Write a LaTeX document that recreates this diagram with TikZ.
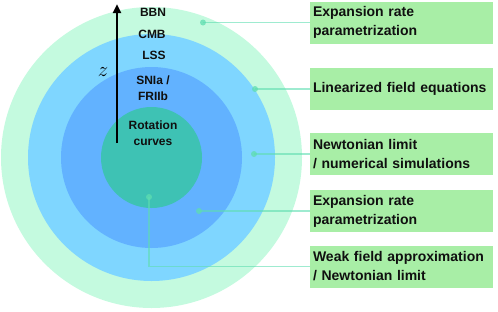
\documentclass[tikz,border=0pt]{standalone}
\usepackage{fontspec}
\setmainfont{Liberation Sans}
\usepackage{xcolor}
\usetikzlibrary{positioning, arrows.meta, calc}
\definecolor{ringbbn}{HTML}{C4FADF}
\definecolor{ringlss}{HTML}{7FD6FF}
\definecolor{ringsn}{HTML}{62B2FF}
\definecolor{ringrot}{HTML}{3EC2B4}
\definecolor{boxfill}{HTML}{A8EEA6}
\definecolor{wire}{HTML}{5EDDB0}
\definecolor{textmain}{HTML}{101010}

\begin{document}
\begin{tikzpicture}[
    x=1pt, y=-1pt,
    ring/.style={circle, inner sep=0pt, minimum size=#1},
    probe/.style={text=textmain, font=\bfseries\fontsize{12}{16}\selectfont, align=center},
    method/.style={rectangle, fill=boxfill, text=textmain, inner sep=3pt,
                   text width=177pt, minimum height=42pt, align=left,
                   font=\bfseries\fontsize{14}{19}\selectfont},
    dot/.style={circle, fill=wire, fill opacity=0.75, inner sep=0pt, minimum size=6pt},
    link/.style={wire, line width=1.5pt, draw opacity=0.6},
    zaxis/.style={-{Triangle[length=9pt, width=8pt]}, line width=2.6pt, black}
  ]
    \useasboundingbox (0,0) rectangle (498,311);
    % nested rings
    \coordinate (core) at (151.5,157.5);
    \node[ring=301pt, fill=ringbbn] (bbn) at (core) {};
    \node[ring=247pt, fill=ringlss] (lss) at (core) {};
    \node[ring=181pt, fill=ringsn] (sn) at (core) {};
    \node[ring=101pt, fill=ringrot] (rot) at (core) {};

    % probes
    \node[probe] (tbbn) at (153,12) {BBN};
    \node[probe] (tcmb) at (152,34) {CMB};
    \node[probe] (tlss) at (154,55) {LSS};
    \node[probe] (tsn) at (153,88) {SNIa /\\FRIIb};
    \node[probe] (trot) at (153,133) {Rotation\\curves};

    % redshift axis
    \coordinate (zlow) at (117,143);
    \coordinate (zhigh) at (117,4);
    \draw[zaxis] (zlow) -- (zhigh);
    \node (zlab) at (103,72) {\huge$z$};

    % methods
    \node[method] (mexp) at (401.5,22.5) {Expansion rate\\parametrization};
    \node[method] (mlin) at (401.5,89) {Linearized field equations};
    \node[method] (mnewt) at (401.5,154) {Newtonian limit\\/ numerical simulations};
    \node[method] (mexpb) at (401.5,211) {Expansion rate\\parametrization};
    \node[method] (mweak) at (401.5,266.5) {Weak field approximation\\/ Newtonian limit};

    % pointers
    \node[dot] (dbbn) at (203,22.5) {};
    \node[dot] (dlss) at (255,89) {};
    \node[dot] (dcmb) at (254,154) {};
    \node[dot] (dsn) at (199,211) {};
    \node[dot] (drot) at (149,197) {};

    \draw[link] (dbbn.center) -- (mexp.west);
    \draw[link] (dlss.center) -- (mlin.west);
    \draw[link] (dcmb.center) -- (mnewt.west);
    \draw[link] (dsn.center) -- (mexpb.west);
    \draw[link] (drot.center) |- (mweak.west);
  \end{tikzpicture}
\end{document}
